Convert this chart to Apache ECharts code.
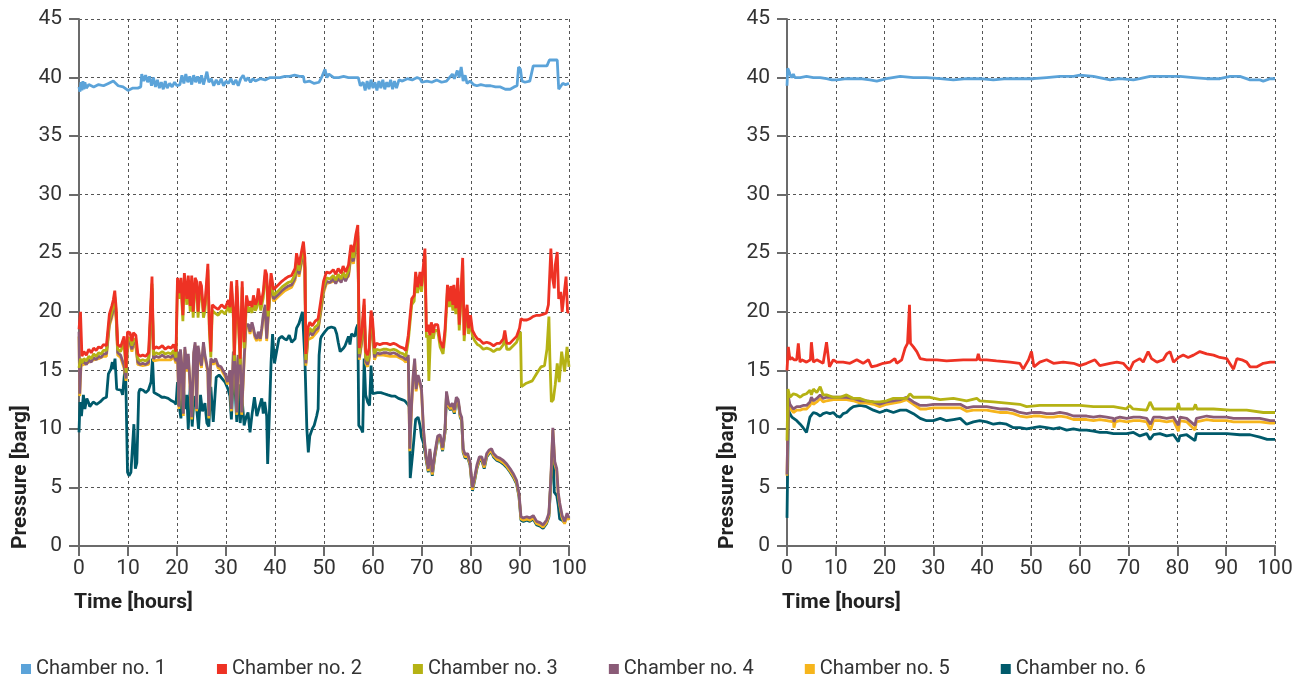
<!DOCTYPE html>
<html>
<head>
<meta charset="utf-8">
<title>Chamber pressure</title>
<script src="https://cdn.jsdelivr.net/npm/echarts@6/dist/echarts.min.js"></script>
<style>
    html, body { margin: 0; padding: 0; background: #fff; }
    #chart { width: 1306px; height: 683px; }
</style>
</head>
<body>
<div id="chart"></div>
<script>
// series names and colours
const chamberNames = ['Chamber no. 1', 'Chamber no. 2', 'Chamber no. 3', 'Chamber no. 4', 'Chamber no. 5', 'Chamber no. 6']
const chamberColors = ['#5ba3d9', '#ee3224', '#b5b214', '#8a5b77', '#f6b51c', '#005a6b']

const hourTicks = [0, 10, 20, 30, 40, 50, 60, 70, 80, 90, 100]
const pressureTicks = [0, 5, 10, 15, 20, 25, 30, 35, 40, 45]

// ---- left panel, [hours, barg] ----
const leftCh1 = [[0,39.2],[0.2,38.8],[0.4,39.6],[0.6,38.9],[0.8,39.7],[1.0,39.0],[1.2,39.6],[1.5,39.1],[2,39.4],[3,39.2],[4,39.4],[5,39.3],[6,39.5],[7,39.7],[8,39.3],[9,39.2],[10,38.9],[11,39.1],[12,39.1],[12.6,39.2],[12.8,40.3],[13.2,39.7],[13.6,40.2],[14.0,39.6],[14.4,40.1],[14.8,39.3],[15.2,40.0],[15.6,39.2],[16,39.8],[16.4,39.1],[16.8,39.6],[17.2,39.0],[17.6,39.7],[18.0,39.1],[18.5,39.5],[19,39.2],[19.5,39.6],[20,39.3],[20.6,39.4],[21.0,40.2],[21.4,39.5],[21.8,40.3],[22.2,39.6],[22.6,40.1],[23,39.4],[23.4,40.2],[23.8,39.6],[24.2,40.1],[24.6,39.5],[25,40.2],[25.4,39.4],[25.8,40.0],[26.1,40.5],[26.5,39.6],[27,39.9],[27.5,39.3],[28,39.8],[28.5,39.4],[29,39.9],[29.5,39.3],[30,39.7],[30.5,39.5],[31,39.9],[31.5,39.4],[32,39.8],[32.5,39.3],[33,39.9],[33.5,40.2],[34,39.7],[34.5,40.0],[35,39.6],[35.5,39.9],[36,39.7],[37,39.9],[38,39.8],[39,40.0],[40,40.0],[41,40.0],[42,40.1],[43,40.1],[44,40.2],[45,40.1],[45.8,40.1],[46.0,39.6],[47,39.7],[48,39.5],[49,39.6],[49.6,40.1],[50.2,40.7],[50.6,40.0],[51,40.3],[52,40.0],[53,40.0],[54,40.1],[55,40.0],[56,40.0],[57,40.0],[57.4,39.3],[58,39.6],[58.4,38.9],[58.8,39.7],[59.2,39.0],[59.6,39.8],[60,39.1],[60.4,39.6],[60.8,38.9],[61.2,39.7],[61.6,39.1],[62,39.8],[62.4,39.0],[62.8,39.6],[63.2,39.2],[63.6,39.8],[64,39.0],[64.4,39.7],[64.8,39.1],[65.3,39.8],[66,39.7],[67,39.9],[68,39.8],[69,40.0],[69.6,39.9],[70,39.6],[71,39.7],[72,39.6],[73,39.8],[74,39.6],[75,39.7],[75.6,40.0],[76.2,40.3],[76.6,39.9],[77.2,40.6],[77.6,40.0],[78.0,40.9],[78.4,39.7],[78.8,40.2],[79.2,39.5],[79.8,39.7],[80.5,39.4],[81.2,39.3],[82,39.4],[83,39.3],[84,39.3],[85,39.2],[86,39.2],[87,39.0],[88,39.0],[88.8,39.2],[89.4,39.3],[89.7,40.9],[90.1,40.7],[90.4,39.7],[91,39.6],[92,39.7],[92.4,39.6],[92.7,41.0],[94,41.0],[95.5,41.0],[96.0,41.5],[97.6,41.5],[97.9,39.0],[98.3,38.9],[98.7,39.5],[99.3,39.4],[100,39.5]]

const leftCh2 = [[0,18.5],[0.3,20.0],[0.6,16.2],[1,16.6],[1.5,16.3],[2,16.8],[2.5,16.5],[3,16.9],[3.5,16.7],[4,17.0],[4.5,16.9],[5,17.2],[5.6,17.1],[6.2,19.8],[6.7,20.5],[7.0,21.0],[7.3,21.8],[7.6,20.2],[7.9,17.2],[8.5,17.0],[9.2,17.9],[9.6,15.2],[9.9,18.3],[10.4,18.2],[10.8,17.5],[11.1,18.2],[11.6,18.0],[12.0,16.4],[12.5,16.2],[13,16.3],[13.6,16.2],[14.2,16.5],[14.6,16.6],[14.9,23.0],[15.2,16.8],[15.7,17.0],[16.3,16.9],[17,17.1],[17.6,16.8],[18.2,17.0],[18.8,16.9],[19.3,17.2],[19.8,16.6],
    [20.1,22.9],[20.5,21.6],[20.8,22.9],[21.2,19.7],[21.5,23.3],[22.0,21.1],[22.3,23.1],[22.7,20.5],[23.0,23.1],[23.3,20.0],[23.7,22.9],[24.0,22.6],[24.3,20.0],[24.7,22.6],[25.0,22.2],[25.4,20.0],[25.7,20.6],[26.3,24.1],[26.6,18.9],[26.9,16.6],[27.2,20.6],[27.7,20.4],[28.4,20.2],[29.1,20.6],[29.8,20.3],[30.5,21.0],[30.8,20.4],[31.1,22.6],[31.5,20.0],[31.7,16.3],[32.2,22.7],[32.5,22.6],[32.9,16.0],[33.3,22.6],[33.7,17.4],[34.2,21.4],[34.6,20.5],[34.9,20.9],[35.3,20.4],[35.6,21.4],[36.0,20.6],[36.3,20.9],[36.6,22.0],[37.1,20.6],[37.6,21.7],[38.0,23.6],[38.3,23.2],[38.6,20.1],[39.2,23.3],[39.7,21.9],
    [40.0,22.0],[40.7,22.3],[41.4,22.6],[42.0,22.8],[42.7,23.0],[43.4,23.1],[44.1,23.7],[44.4,25.0],[44.9,24.0],[45.3,24.9],[45.8,26.0],[46.1,24.6],[46.3,16.4],[46.7,18.6],[47.1,19.1],[47.6,18.8],[48.2,19.2],[48.8,19.4],[49.4,21.1],[49.9,22.6],[50.5,23.4],[51.2,23.3],[51.9,23.6],[52.4,23.2],[52.9,23.7],[53.5,23.3],[53.9,23.9],[54.4,23.4],[55.0,24.0],[55.5,25.7],[56.0,25.1],[56.5,26.6],[56.9,27.4],[57.2,16.9],[57.7,18.3],[58.2,21.1],[58.5,16.6],[58.9,16.3],[59.2,16.9],[59.6,20.1],[59.9,19.4],
    [60.3,16.9],[60.7,17.3],[61.4,17.2],[62.1,17.3],[62.8,17.3],[63.5,17.2],[64.2,17.3],[64.8,17.2],[65.5,17.0],[66.2,16.9],[66.7,16.7],[67.2,18.0],[67.9,21.1],[68.4,21.4],[68.7,23.4],[69.1,22.1],[69.6,23.4],[69.9,22.2],[70.3,22.2],[70.6,25.4],[70.9,18.3],[71.3,18.9],[71.6,18.0],[71.9,19.1],[72.3,18.2],[72.6,18.9],[73.2,18.9],[73.7,17.5],[74.0,17.6],[74.3,16.9],[74.7,18.5],[75.2,22.3],[75.6,20.9],[75.9,22.2],[76.3,20.6],[76.5,22.3],[76.9,20.3],[77.3,22.9],[77.6,18.9],[77.9,21.1],[78.3,24.6],[78.6,18.0],[78.9,19.7],[79.2,20.6],[79.5,18.6],[79.9,19.7],
    [80.3,18.4],[80.8,18.0],[81.3,17.7],[81.8,17.6],[82.5,17.3],[83.2,17.4],[83.9,17.3],[84.6,17.1],[85.3,17.3],[85.9,17.3],[86.6,17.7],[86.9,18.4],[87.3,17.3],[87.9,17.3],[88.6,17.6],[89.3,17.9],[89.9,18.6],[90.2,19.4],[90.7,19.3],[91.4,19.3],[92.0,19.4],[92.7,19.6],[93.4,19.7],[94.1,19.7],[94.8,19.8],[95.4,19.9],[95.8,20.6],[96.3,25.4],[96.6,23.0],[97.0,22.0],[97.2,24.0],[97.6,25.1],[97.9,21.1],[98.3,21.7],[98.6,20.0],[98.9,20.0],[99.4,23.0],[99.7,20.0],[100,19.9]]

const leftCh3 = [[0,15.2],[0.3,16.0],[0.6,15.6],[1,16.0],[1.5,15.8],[2,16.2],[2.5,16.0],[3,16.4],[3.5,16.2],[4,16.5],[4.5,16.4],[5,16.7],[5.6,16.7],[6.2,19.3],[6.7,20.0],[7.0,20.5],[7.3,21.3],[7.6,19.8],[7.9,16.8],[8.5,16.6],[9.2,17.4],[9.6,14.8],[9.9,17.8],[10.4,17.7],[10.8,17.1],[11.1,17.7],[11.6,17.5],[12.0,16.0],[12.5,15.8],[13,15.9],[13.6,15.8],[14.2,16.0],[14.6,16.1],[14.9,22.4],[15.2,16.3],[15.7,16.5],[16.3,16.4],[17,16.6],[17.6,16.4],[18.2,16.5],[18.8,16.4],[19.3,16.7],[19.8,16.1],
    [20.1,22.4],[20.5,21.1],[20.8,22.4],[21.2,19.2],[21.5,22.8],[22.0,20.6],[22.3,22.6],[22.7,20.0],[23.0,22.6],[23.3,19.5],[23.7,22.4],[24.0,22.1],[24.3,19.5],[24.7,22.1],[25.0,21.7],[25.4,19.5],[25.7,20.1],[26.3,23.6],[26.6,18.4],[26.9,16.1],[27.2,20.1],[27.7,19.9],[28.4,19.7],[29.1,20.1],[29.8,19.8],[30.5,20.5],[30.8,19.9],[31.1,22.1],[31.5,19.5],[31.7,15.8],[32.2,22.2],[32.5,22.1],[32.9,15.5],[33.3,22.1],[33.7,16.9],[34.2,20.9],[34.6,20.0],[34.9,20.4],[35.3,19.9],[35.6,20.9],[36.0,20.1],[36.3,20.4],[36.6,21.5],[37.1,20.1],[37.6,21.2],[38.0,23.1],[38.3,22.7],[38.6,19.6],[39.2,22.8],[39.7,21.4],
    [40.0,21.5],[40.7,21.8],[41.4,22.1],[42.0,22.3],[42.7,22.5],[43.4,22.6],[44.1,23.2],[44.4,24.4],[44.9,23.5],[45.3,24.4],[45.8,25.4],[46.1,24.1],[46.3,15.9],[46.7,18.1],[47.1,18.6],[47.6,18.3],[48.2,18.7],[48.8,18.9],[49.4,20.6],[49.9,22.1],[50.5,22.9],[51.2,22.8],[51.9,23.1],[52.4,22.7],[52.9,23.2],[53.5,22.8],[53.9,23.4],[54.4,22.9],[55.0,23.5],[55.5,25.2],[56.0,24.6],[56.5,26.1],[56.9,26.8],[57.2,16.4],[57.7,17.8],[58.2,20.6],[58.5,16.1],[58.9,15.8],[59.2,16.4],[59.6,19.6],[59.9,18.9],
    [60.3,16.4],[60.7,16.8],[61.4,16.7],[62.1,16.8],[62.8,16.8],[63.5,16.7],[64.2,16.8],[64.8,16.7],[65.5,16.5],[66.2,16.4],[66.7,16.2],[67.2,17.5],[67.9,20.6],[68.4,20.9],[68.7,22.8],[69.1,21.6],[69.6,22.8],[69.9,21.7],[70.3,21.7],[70.6,24.8],[70.9,17.8],[71.2,18.0],[71.4,14.1],[71.7,17.6],[71.9,18.6],[72.3,17.7],[72.6,18.4],[73.2,18.4],[73.7,17.0],[74.0,17.1],[74.3,16.4],[74.7,18.0],[75.2,21.8],[75.6,20.4],[75.9,21.7],[76.3,20.1],[76.5,21.8],[76.9,19.8],[77.3,22.3],[77.6,18.4],[77.9,20.6],[78.3,24.0],[78.6,17.5],[78.9,19.2],[79.2,20.1],[79.5,18.1],[79.9,19.2],
    [80.3,17.9],[80.8,17.5],[81.3,17.2],[81.8,17.1],[82.5,16.8],[83.2,16.9],[83.9,16.8],[84.6,16.6],[85.3,16.8],[85.9,16.8],[86.6,17.2],[86.9,17.9],[87.3,16.8],[87.9,16.8],[88.6,17.1],[89.3,17.4],[89.9,18.1],[90.1,18.3],[90.3,13.6],[91.3,13.9],[92.5,14.1],[93.5,14.8],[94.3,15.3],[95.0,15.4],[95.5,16.8],[95.9,19.6],[96.1,16.0],[96.4,12.3],[96.8,12.5],[97.2,13.8],[97.6,15.6],[98.0,14.0],[98.5,16.6],[99.1,14.9],[99.6,17.0],[100,15.3]]

const leftCh4 = [[0,18.3],[0.15,13.0],[0.4,15.6],[1,15.7],[1.5,15.5],[2,15.9],[2.5,15.7],[3,16.1],[3.5,15.9],[4,16.2],[4.5,16.1],[5,16.4],[5.6,16.4],[6.2,19.0],[6.7,19.7],[7.0,20.2],[7.3,21.0],[7.6,19.5],[7.9,16.5],[8.5,16.3],[9.2,15.4],[9.6,14.3],[9.9,17.5],[10.4,17.4],[10.8,16.8],[11.1,17.4],[11.6,17.2],[12.0,15.7],[12.5,15.5],[13,15.6],[13.6,15.5],[14.2,15.7],[14.6,15.8],[14.9,22.0],[15.2,16.0],[15.7,16.2],[16.3,16.1],[17,16.3],[17.6,16.1],[18.2,16.2],[18.8,16.1],[19.3,16.4],[19.8,15.8],
    [20.1,16.6],[20.4,11.9],[20.7,16.8],[21.0,15.4],[21.3,11.3],[21.6,17.0],[22.0,15.1],[22.3,16.4],[22.7,13.6],[23.0,11.0],[23.4,16.5],[23.7,17.4],[24.0,11.7],[24.3,17.1],[24.7,16.0],[25.0,15.4],[25.4,17.4],[25.7,16.3],[26.3,15.0],[26.5,11.1],[26.9,16.0],[27.4,15.7],[27.9,16.0],[28.4,15.4],[29.0,15.3],[29.5,14.9],[29.9,14.6],[30.3,14.0],[30.8,15.0],[31.1,11.7],[31.5,16.6],[31.8,16.3],[32.2,11.4],[32.5,16.3],[32.9,16.0],[33.2,11.4],[33.7,16.0],[34.1,18.9],[34.6,18.9],[34.9,18.3],[35.3,19.1],[35.6,18.6],[35.9,18.0],[36.3,17.7],[36.6,18.3],[37.0,17.7],[37.3,18.6],[37.6,19.7],[38.0,20.6],[38.3,17.7],[38.6,19.6],[39.2,22.6],[39.7,21.1],
    [40.0,21.2],[40.7,21.5],[41.4,21.8],[42.0,22.0],[42.7,22.2],[43.4,22.3],[44.1,22.9],[44.4,24.1],[44.9,23.2],[45.3,24.1],[45.8,25.1],[46.1,23.8],[46.3,15.6],[46.7,17.8],[47.1,18.3],[47.6,18.0],[48.2,18.4],[48.8,18.6],[49.4,20.3],[49.9,21.8],[50.5,22.6],[51.2,22.5],[51.9,22.8],[52.4,22.4],[52.9,22.9],[53.5,22.5],[53.9,23.1],[54.4,22.6],[55.0,23.2],[55.5,24.9],[56.0,24.3],[56.5,25.8],[56.9,26.5],[57.2,16.1],[57.7,17.5],[58.2,20.3],[58.5,15.8],[58.9,15.5],[59.2,16.1],[59.6,19.3],[59.9,18.6],
    [60.3,16.1],[60.7,16.5],[61.4,16.4],[62.1,16.5],[62.8,16.5],[63.5,16.4],[64.2,16.5],[64.8,16.4],[65.5,16.2],[66.2,16.1],[66.7,15.9],[67.2,16.3],[67.5,8.3],[67.9,12.3],[68.2,14.6],[68.5,16.0],[68.8,13.4],[69.2,14.6],[69.6,14.0],[69.9,13.4],[70.3,10.0],[70.6,8.6],[70.9,7.5],[71.3,6.6],[71.6,8.3],[72.1,6.3],[72.6,7.9],[73.2,9.4],[73.7,9.5],[74.2,8.4],[74.7,10.0],[75.0,13.2],[75.4,12.2],[75.8,11.9],[76.2,12.2],[76.6,11.6],[77.0,12.7],[77.4,12.5],[77.8,11.3],[78.1,11.0],[78.4,8.3],[78.8,7.8],[79.3,7.9],[79.8,7.2],
    [80.3,5.0],[80.8,6.0],[81.2,6.9],[81.7,7.6],[82.2,7.6],[82.7,6.9],[83.2,7.9],[83.7,8.2],[84.2,8.3],[84.6,7.9],[85.3,7.6],[85.9,7.5],[86.6,7.3],[87.3,7.0],[88.0,6.6],[88.6,6.2],[89.3,5.6],[89.8,4.5],[90.2,2.5],[90.7,2.4],[91.4,2.5],[92.0,2.4],[92.7,2.6],[93.4,2.1],[94.1,2.0],[94.7,1.8],[95.4,2.2],[95.9,2.8],[96.3,5.8],[96.7,10.1],[97.1,7.2],[97.5,6.6],[97.8,4.6],[98.1,3.7],[98.6,2.6],[99.1,2.1],[99.6,2.8],[100,2.4]]

const leftCh5 = [[0,17.9],[0.15,12.8],[0.4,15.4],[1,15.5],[2,15.7],[3,15.9],[4,16.0],[5,16.2],[5.6,16.2],[6.2,18.8],[6.7,19.5],[7.3,20.8],[7.6,19.3],[7.9,16.3],[8.5,16.1],[9.2,15.2],[9.6,14.1],[9.9,17.3],[10.4,17.2],[10.8,16.6],[11.1,17.2],[11.6,17.0],[12.0,15.5],[13,15.4],[14.2,15.5],[14.6,15.6],[14.9,21.7],[15.2,15.8],[16.3,15.9],[17.6,15.9],[18.8,15.9],[19.3,16.2],[19.8,15.6],
    [20.1,16.4],[20.4,11.7],[20.7,16.6],[21.0,15.2],[21.3,11.1],[21.6,16.8],[22.0,14.9],[22.3,16.2],[22.7,13.4],[23.0,10.8],[23.4,16.3],[23.7,17.2],[24.0,11.5],[24.3,16.9],[24.7,15.8],[25.0,15.2],[25.4,17.2],[25.7,16.1],[26.3,14.8],[26.5,10.9],[26.9,15.8],[27.4,15.5],[27.9,15.8],[28.4,15.2],[29.0,15.1],[29.5,14.7],[29.9,14.4],[30.3,13.8],[30.8,14.8],[31.1,11.5],[31.5,16.4],[31.8,16.1],[32.2,11.2],[32.5,16.1],[32.9,15.8],[33.2,11.2],[33.7,15.8],[34.1,18.7],[34.6,18.7],[34.9,18.1],[35.3,18.9],[35.6,18.4],[35.9,17.8],[36.3,17.5],[36.6,18.1],[37.0,17.5],[37.3,18.4],[37.6,19.5],[38.0,20.4],[38.3,17.5],[38.6,19.4],[39.2,22.4],[39.7,20.9],
    [40.7,21.3],[42.0,21.8],[43.4,22.1],[44.1,22.7],[44.4,23.9],[44.9,23.0],[45.3,23.9],[45.8,24.9],[46.1,23.6],[46.3,15.4],[46.7,17.6],[47.6,17.8],[48.8,18.4],[49.4,20.1],[49.9,21.6],[50.5,22.4],[51.9,22.6],[52.9,22.7],[53.9,22.9],[55.0,23.0],[55.5,24.7],[56.0,24.1],[56.5,25.6],[56.9,26.3],[57.2,15.9],[57.7,17.3],[58.2,20.1],[58.5,15.6],[58.9,15.3],[59.2,15.9],[59.6,19.1],[59.9,18.4],
    [60.3,15.9],[60.7,16.3],[62.1,16.3],[63.5,16.2],[64.8,16.2],[66.2,15.9],[66.7,15.7],[67.2,16.1],[67.5,8.1],[67.9,12.1],[68.2,14.4],[68.5,15.8],[68.8,13.2],[69.2,14.4],[69.6,13.8],[69.9,13.2],[70.3,9.8],[70.6,8.4],[70.9,7.3],[71.3,6.4],[71.6,8.1],[72.1,6.1],[72.6,7.7],[73.2,9.2],[73.7,9.3],[74.2,8.2],[74.7,9.8],[75.0,13.0],[75.4,12.0],[75.8,11.7],[76.2,12.0],[76.6,11.4],[77.0,12.5],[77.4,12.3],[77.8,11.1],[78.1,10.8],[78.4,8.1],[78.8,7.6],[79.3,7.7],[79.8,7.0],
    [80.3,4.8],[80.8,5.8],[81.2,6.7],[81.7,7.4],[82.2,7.4],[82.7,6.7],[83.2,7.7],[83.7,8.0],[84.2,8.1],[84.6,7.7],[85.3,7.4],[85.9,7.3],[86.6,7.1],[87.3,6.8],[88.0,6.4],[88.6,6.0],[89.3,5.4],[89.8,4.3],[90.2,2.3],[90.7,2.2],[91.4,2.3],[92.0,2.2],[92.7,2.4],[93.4,1.9],[94.1,1.8],[94.7,1.6],[95.4,2.0],[95.9,2.6],[96.3,5.6],[96.7,9.9],[97.1,7.0],[97.5,6.4],[97.8,4.4],[98.1,3.5],[98.6,2.4],[99.1,1.9],[99.6,2.6],[100,2.2]]

const leftCh6 = [[0,9.7],[0.2,12.3],[0.5,11.1],[0.9,12.9],[1.2,11.7],[1.6,12.6],[1.9,12.3],[2.2,11.9],[2.9,12.3],[3.6,12.1],[4.3,12.3],[5.0,12.6],[5.6,12.7],[6.0,14.7],[6.5,15.1],[6.8,15.7],[7.0,15.1],[7.35,16.0],[7.7,13.4],[8.0,13.3],[8.6,13.3],[8.9,12.9],[9.25,14.6],[9.5,15.4],[9.9,6.3],[10.2,6.0],[10.6,6.3],[10.95,6.3],[11.2,10.4],[11.5,6.6],[11.8,7.1],[12.0,10.0],[12.2,13.1],[12.45,13.4],[13.1,13.3],[13.6,13.1],[14.15,13.3],[14.7,14.0],[15.0,16.0],[15.3,13.1],[15.5,13.0],[16.2,12.9],[16.9,12.7],[17.5,12.7],[18.2,12.6],[18.9,12.4],[19.4,12.3],[19.8,12.1],
    [20.1,14.0],[20.5,11.8],[20.8,10.9],[21.2,14.3],[21.6,11.7],[22.0,12.9],[22.3,10.0],[22.7,13.7],[23.1,10.2],[23.5,12.8],[24.0,11.8],[24.4,10.0],[24.8,12.9],[25.2,11.5],[25.7,12.2],[26.1,10.5],[26.5,10.2],[26.9,13.6],[27.4,10.6],[28.0,14.4],[28.6,14.6],[29.2,14.3],[29.8,14.0],[30.4,13.4],[30.8,12.8],[31.1,10.8],[31.5,14.5],[31.9,13.0],[32.2,10.6],[32.6,13.8],[32.9,10.5],[33.3,12.5],[33.7,10.3],[34.1,11.0],[34.5,11.4],[34.9,9.7],[35.3,11.2],[35.8,12.7],[36.3,11.1],[36.7,11.7],[37.3,12.6],[37.6,11.3],[37.9,12.3],[38.3,11.1],[38.5,7.0],[38.8,10.6],[39.2,15.7],[39.5,18.1],[39.9,15.6],
    [40.3,15.7],[40.8,17.7],[41.4,17.9],[41.9,17.7],[42.4,17.6],[42.9,18.0],[43.4,17.4],[44.1,17.7],[44.4,18.6],[44.9,19.0],[45.3,18.9],[45.6,20.0],[46.1,16.0],[46.5,10.0],[46.8,8.0],[47.1,9.4],[47.6,10.0],[48.0,10.3],[48.5,11.1],[48.8,11.7],[49.0,16.3],[49.3,17.7],[49.5,17.9],[50.2,18.3],[50.8,18.6],[51.5,18.7],[52.2,18.6],[52.6,18.1],[52.9,17.4],[53.3,16.6],[53.6,16.6],[54.0,16.9],[54.3,17.1],[55.0,17.9],[55.3,17.2],[55.6,18.1],[56.3,17.9],[56.6,18.6],[56.9,18.9],[57.1,10.3],[57.6,10.0],[57.9,9.7],[58.2,16.0],[58.5,12.9],[58.9,12.3],[59.3,12.0],[59.6,15.4],[59.9,13.0],
    [60.3,12.9],[60.9,13.1],[61.6,13.1],[62.3,13.0],[63.0,12.9],[63.8,12.8],[64.5,12.8],[65.2,12.6],[65.9,12.5],[66.5,12.4],[67.1,12.1],[67.4,11.9],[67.6,5.8],[68.1,7.9],[68.7,10.8],[69.2,11.0],[69.6,10.3],[69.9,9.3],[70.3,8.8],[70.7,7.8],[70.9,7.2],[71.3,6.3],[71.6,8.0],[72.1,6.0],[72.6,7.6],[73.2,9.1],[73.7,9.2],[74.2,8.1],[74.7,9.7],[75.0,12.9],[75.4,11.9],[75.8,11.6],[76.2,11.9],[76.6,11.3],[77.0,12.4],[77.4,12.2],[77.8,11.0],[78.1,10.7],[78.4,8.0],[78.8,7.5],[79.3,7.6],[79.8,6.9],
    [80.3,4.7],[80.8,5.7],[81.2,6.6],[81.7,7.3],[82.2,7.3],[82.7,6.6],[83.2,7.6],[83.7,7.9],[84.2,8.0],[84.6,7.6],[85.3,7.3],[85.9,7.2],[86.6,7.0],[87.3,6.7],[88.0,6.3],[88.6,5.9],[89.3,5.3],[89.8,4.2],[90.2,2.2],[90.7,2.1],[91.4,2.2],[92.0,2.1],[92.7,2.3],[93.4,1.8],[94.1,1.7],[94.7,1.5],[95.4,1.9],[95.9,2.5],[96.3,5.5],[96.7,9.0],[97.0,4.6],[97.5,4.3],[97.8,3.5],[98.1,2.3],[98.6,2.2],[99.1,2.0],[99.6,2.6],[100,2.3]]

// ---- right panel, [hours, barg] ----
const rightCh1 = [[0,39.3],[0.15,40.8],[0.35,40.6],[0.6,40.3],[0.96,40.0],[1.3,40.3],[1.6,40.0],[2.0,40.1],[2.7,40.0],[4,40.1],[5.4,40.0],[6.8,40.0],[8.1,39.9],[9.2,39.8],[10.2,39.8],[12.2,39.9],[15,39.9],[17,39.8],[18.4,39.7],[20.4,39.9],[23.2,40.1],[25.9,40.0],[28.6,40.0],[31.4,39.9],[34.1,39.8],[36.8,39.9],[39.5,39.9],[42.3,39.8],[45,39.9],[47.7,39.9],[50.5,39.9],[53.2,40.0],[55.9,40.1],[58.7,40.1],[60,40.2],[62.8,40.1],[66.2,39.8],[68.2,39.9],[71.0,39.8],[72.3,39.9],[74.4,40.1],[77.1,40.1],[80.5,40.1],[83.3,40.0],[86.0,39.9],[88.7,39.9],[90.8,40.1],[92.8,40.1],[94.9,39.8],[96.9,39.8],[97.6,39.7],[99,39.9],[100,39.9]]

const rightCh2 = [[0,15.0],[0.27,17.0],[0.61,15.9],[0.96,16.1],[1.43,15.9],[1.98,15.9],[2.32,17.3],[2.66,15.7],[3.0,15.9],[4.0,15.7],[4.4,15.8],[4.8,15.9],[5.0,17.4],[5.4,15.7],[6.1,15.9],[7.4,15.6],[8.1,17.4],[8.7,15.3],[9.5,15.9],[10.2,15.7],[11.5,15.7],[12.9,15.6],[14.3,15.9],[15.6,15.6],[16.7,15.9],[17.3,15.3],[18.4,15.4],[19.7,15.6],[21.1,15.7],[22.1,16.0],[22.5,15.6],[23.5,15.9],[24.2,16.9],[24.7,17.3],[25.1,20.6],[25.3,17.3],[25.9,17.0],[26.6,16.6],[27.3,16.0],[28.6,15.9],[30.7,15.9],[32.7,15.8],[36.1,15.9],[38.9,15.9],[39.2,16.4],[39.5,15.9],[40.9,15.9],[42.9,15.8],[45.7,15.7],[47.7,15.6],[48.4,15.1],[49.5,15.9],[50.1,16.6],[50.6,15.3],[51.8,15.7],[53.2,15.9],[54.6,15.6],[56.6,15.7],[58.7,15.6],[60.0,15.4],[61.4,15.6],[63.1,15.9],[64.1,15.4],[66.2,15.6],[67.6,15.7],[68.9,15.6],[70.2,15.0],[71.0,15.7],[72.3,16.0],[73.0,15.7],[74.0,16.6],[74.7,16.0],[75.8,15.7],[77.1,15.9],[77.8,16.4],[78.5,16.6],[79.2,15.7],[80.2,16.1],[81.2,16.3],[82.2,16.1],[83.3,16.3],[84.6,16.6],[86.0,16.4],[87.4,16.3],[88.7,16.1],[90.1,16.0],[91.5,15.1],[92.2,16.0],[93.2,15.9],[94.2,15.7],[94.9,15.3],[96.3,15.3],[97.6,15.6],[99.0,15.7],[100,15.7]]

const rightCh3 = [[0,9.0],[0.2,13.4],[0.6,12.7],[1.3,13.0],[2.0,12.9],[2.7,12.7],[3.3,12.9],[4.0,13.0],[4.7,13.3],[5.0,12.9],[5.4,13.4],[6.1,13.1],[6.8,13.6],[7.1,13.7],[7.4,12.9],[8.1,12.9],[9.5,12.7],[10.9,12.7],[12.2,12.9],[13.6,12.6],[15.0,12.6],[16.3,12.4],[17.7,12.3],[19.0,12.3],[20.4,12.4],[21.8,12.6],[24.5,12.6],[25.2,13.0],[25.9,12.7],[27.3,12.7],[29.3,12.7],[31.4,12.5],[34.1,12.6],[36.8,12.4],[38.9,12.6],[39.5,12.4],[42.3,12.3],[45.0,12.2],[47.7,12.1],[49.1,11.9],[51.8,12.0],[54.6,12.0],[57.3,12.0],[60.0,12.0],[62.8,11.9],[65.5,11.9],[66.9,11.9],[69.5,11.7],[70.2,12.0],[70.9,11.7],[73.7,11.6],[74.4,12.3],[75.1,11.7],[77.8,11.7],[79.9,11.7],[80.2,12.2],[80.5,11.7],[83.3,11.7],[83.7,12.1],[84.0,11.7],[87.4,11.7],[90.8,11.6],[94.2,11.6],[97.6,11.4],[100,11.4]]

const rightCh4 = [[0,6.1],[0.3,12.7],[0.6,12.1],[1.0,12.0],[1.3,11.7],[2.0,11.9],[2.7,11.9],[3.3,12.0],[4.0,12.0],[4.7,12.3],[5.0,12.7],[5.4,12.4],[6.1,12.6],[6.8,12.9],[7.4,12.6],[8.1,12.7],[9.5,12.7],[10.9,12.7],[12.2,12.7],[13.6,12.6],[15.0,12.4],[16.3,12.4],[17.7,12.3],[19.0,12.1],[20.4,12.3],[21.8,12.4],[23.2,12.5],[24.5,12.7],[25.9,12.3],[27.3,12.0],[28.6,12.0],[30.0,12.1],[31.4,12.1],[32.7,12.1],[34.1,12.1],[35.5,12.1],[36.8,11.8],[38.2,11.9],[39.5,11.9],[40.9,11.9],[42.3,11.8],[43.6,11.7],[45.0,11.7],[46.4,11.6],[47.7,11.4],[49.1,11.3],[50.5,11.4],[51.8,11.4],[53.2,11.3],[54.6,11.3],[55.9,11.4],[57.3,11.3],[58.7,11.1],[60.0,11.1],[61.4,11.1],[62.8,11.0],[64.1,11.1],[65.5,11.0],[66.9,10.9],[67.0,10.6],[67.3,10.9],[68.2,11.0],[69.6,10.9],[71.0,11.0],[72.3,11.0],[73.7,10.9],[74.5,10.4],[75.1,11.0],[76.4,11.0],[77.8,10.9],[79.2,11.0],[80.2,10.3],[80.5,11.0],[81.9,10.9],[83.6,10.3],[83.9,10.9],[86.0,11.1],[87.4,11.0],[90.1,11.0],[91.5,10.9],[94.2,10.9],[96.9,10.9],[99.0,10.7],[100,10.7]]

const rightCh5 = [[0,6.0],[0.3,12.4],[0.6,11.8],[1.0,11.7],[1.3,11.4],[2.0,11.6],[2.7,11.6],[3.3,11.7],[4.0,11.7],[4.7,12.0],[5.0,12.4],[5.4,12.1],[6.1,12.3],[6.8,12.6],[7.4,12.3],[8.1,12.4],[9.5,12.5],[10.9,12.5],[12.2,12.5],[13.6,12.4],[15.0,12.2],[16.3,12.2],[17.7,12.1],[19.0,11.9],[20.4,12.1],[21.8,12.2],[23.2,12.3],[24.5,12.5],[25.9,12.1],[27.3,11.7],[28.6,11.7],[30.0,11.8],[31.4,11.8],[32.7,11.8],[34.1,11.8],[35.5,11.8],[36.8,11.5],[38.2,11.6],[39.5,11.6],[40.9,11.6],[42.3,11.5],[43.6,11.4],[45.0,11.4],[46.4,11.3],[47.7,11.1],[49.1,11.0],[50.5,11.1],[51.8,11.1],[53.2,11.0],[54.6,11.0],[55.9,11.1],[57.3,11.0],[58.7,10.8],[60.0,10.8],[61.4,10.8],[62.8,10.7],[64.1,10.8],[65.5,10.7],[66.9,10.6],[67.0,10.1],[67.3,10.6],[68.2,10.7],[69.6,10.6],[71.0,10.7],[72.3,10.7],[73.7,10.6],[74.5,9.9],[75.1,10.7],[76.4,10.7],[77.8,10.6],[79.2,10.7],[80.2,9.8],[80.5,10.7],[81.9,10.6],[83.6,9.9],[83.9,10.6],[86.0,10.8],[87.4,10.7],[90.1,10.7],[91.5,10.6],[94.2,10.6],[96.9,10.6],[99.0,10.5],[100,10.5]]

const rightCh6 = [[0,2.4],[0.3,11.6],[0.6,11.3],[1.0,11.0],[1.3,11.1],[2.0,10.7],[2.7,10.4],[3.3,10.1],[4.0,9.7],[4.7,11.0],[5.4,11.4],[6.1,11.3],[6.8,11.1],[7.4,11.3],[8.1,11.4],[8.8,11.3],[9.5,11.4],[10.2,11.1],[10.9,11.0],[11.5,11.3],[12.2,11.4],[12.9,11.7],[13.6,11.9],[15.0,12.0],[16.3,11.9],[17.7,11.6],[19.0,11.4],[20.4,11.6],[21.8,11.4],[23.2,11.6],[24.5,11.6],[25.9,11.3],[27.3,10.9],[28.6,10.7],[30.0,10.7],[31.4,10.9],[32.7,10.7],[34.1,10.8],[35.5,10.9],[36.8,10.4],[38.2,10.6],[39.5,10.7],[40.9,10.6],[42.3,10.4],[43.6,10.5],[45.0,10.4],[46.4,10.1],[47.7,10.1],[49.1,10.0],[50.5,10.1],[51.8,10.2],[53.2,10.1],[54.6,10.0],[55.9,10.1],[57.3,9.9],[58.7,10.0],[60.0,9.9],[61.4,9.9],[62.8,9.8],[64.1,9.7],[65.5,9.7],[66.9,9.6],[68.2,9.6],[69.6,9.6],[71.0,9.7],[72.3,9.4],[73.7,9.6],[74.4,9.1],[75.1,9.5],[76.4,9.6],[77.8,9.4],[79.2,9.5],[80.2,8.9],[80.5,9.4],[81.9,9.5],[83.6,9.0],[83.9,9.6],[86.0,9.6],[87.4,9.6],[90.1,9.6],[92.8,9.5],[94.9,9.5],[96.9,9.3],[98.4,9.1],[100,9.1]]

const leftData = [leftCh1, leftCh2, leftCh3, leftCh4, leftCh5, leftCh6]
const rightData = [rightCh1, rightCh2, rightCh3, rightCh4, rightCh5, rightCh6]

const FONT = 'Roboto, "Liberation Sans", sans-serif'
const axisGrey = '#6b6b6b'
const gridDash = { color: '#555', width: 1, type: [3, 3] }

function xAxisFor(gridIndex) {
    return {
        type: 'value',
        gridIndex: gridIndex,
        min: hourTicks[0],
        max: hourTicks[hourTicks.length - 1],
        interval: hourTicks[1] - hourTicks[0],
        axisLine: { show: true, onZero: false, lineStyle: { color: axisGrey, width: 2 } },
        axisTick: { show: true, length: 10, lineStyle: { color: axisGrey, width: 2 } },
        axisLabel: { color: '#333', fontSize: 21, fontFamily: FONT, margin: 12 },
        splitLine: { show: true, lineStyle: gridDash },
    }
}

function yAxisFor(gridIndex) {
    return {
        type: 'value',
        gridIndex: gridIndex,
        min: pressureTicks[0],
        max: pressureTicks[pressureTicks.length - 1],
        interval: pressureTicks[1] - pressureTicks[0],
        axisLine: { show: true, lineStyle: { color: axisGrey, width: 2 } },
        axisTick: { show: true, length: 10, lineStyle: { color: axisGrey, width: 2 } },
        axisLabel: { color: '#333', fontSize: 21, fontFamily: FONT, margin: 17 },
        splitLine: { show: true, lineStyle: gridDash },
    }
}

// later chambers sit underneath earlier ones, as in the original
function seriesFor(data, gridIndex) {
    return data.map((points, i) => ({
        name: chamberNames[i],
        type: 'line',
        xAxisIndex: gridIndex,
        yAxisIndex: gridIndex,
        data: points,
        showSymbol: false,
        z: 10 - i,
        lineStyle: { color: chamberColors[i], width: 2.8 },
        itemStyle: { color: chamberColors[i] },
    }))
}

function axisTitle(text, x, y, rotated) {
    return {
        type: 'text',
        x: x,
        y: y,
        rotation: rotated ? Math.PI / 2 : 0,
        style: {
            text: text,
            fill: '#222',
            font: 'bold 21px ' + FONT,
            textAlign: 'left',
            textVerticalAlign: 'middle',
        },
    }
}

const option = {
    animation: false,
    backgroundColor: '#fff',
    grid: [
        { left: 79, right: 737, top: 19, bottom: 137 },
        { left: 787, right: 31, top: 19, bottom: 137 },
    ],
    xAxis: [xAxisFor(0), xAxisFor(1)],
    yAxis: [yAxisFor(0), yAxisFor(1)],
    legend: {
        data: chamberNames,
        left: 16,
        top: 654,
        icon: 'rect',
        itemWidth: 10,
        itemHeight: 10,
        itemGap: 51,
        textStyle: { color: '#333', fontSize: 20, fontFamily: FONT },
    },
    graphic: [
        axisTitle('Pressure [barg]', 21, 549, true),
        axisTitle('Time [hours]', 74, 603, false),
        axisTitle('Pressure [barg]', 728, 549, true),
        axisTitle('Time [hours]', 782, 603, false),
    ],
    series: seriesFor(leftData, 0).concat(seriesFor(rightData, 1)),
}

const myChart = echarts.init(document.getElementById('chart'))
myChart.setOption(option)
</script>
</body>
</html>
